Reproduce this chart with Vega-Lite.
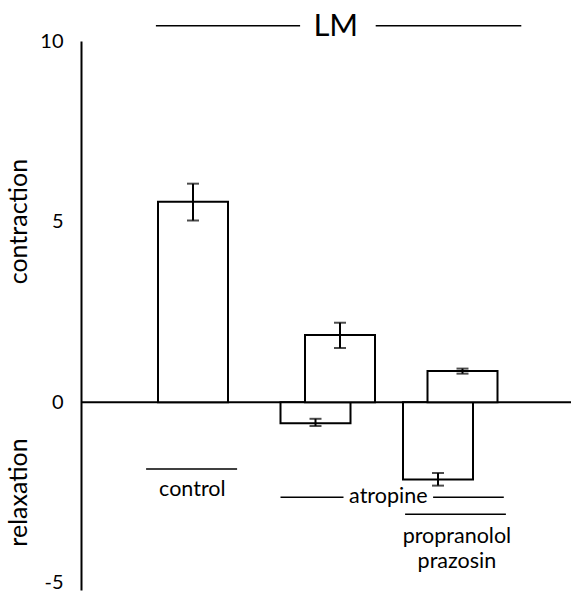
{
  "$schema": "https://vega.github.io/schema/vega-lite/v6.json",
  "autosize": {"type": "none"},
  "width": 490,
  "height": 549,
  "padding": {"left": 81, "top": 41, "right": 0, "bottom": 2},
  "background": "white",
  "config": {"view": {"stroke": null}, "font": "Lato"},
  "datasets": {
    "bars": [
      {"group": "control", "sign": "pos", "start": 1.1, "end": 2.1, "center": 1.6, "mean": 5.55, "lo": 5.03, "hi": 6.05},
      {"group": "atropine", "sign": "neg", "start": 2.85, "end": 3.85, "center": 3.35, "mean": -0.58, "lo": -0.66, "hi": -0.46},
      {"group": "atropine", "sign": "pos", "start": 3.2, "end": 4.2, "center": 3.7, "mean": 1.86, "lo": 1.5, "hi": 2.2},
      {"group": "atropine+propranolol+prazosin", "sign": "neg", "start": 4.6, "end": 5.6, "center": 5.1, "mean": -2.14, "lo": -2.31, "hi": -1.96},
      {"group": "atropine+propranolol+prazosin", "sign": "pos", "start": 4.95, "end": 5.95, "center": 5.45, "mean": 0.86, "lo": 0.79, "hi": 0.93}
    ],
    "lines": [
      {"x": 1.07, "x2": 3.13, "y": 10.42},
      {"x": 4.21, "x2": 6.29, "y": 10.42},
      {"x": 0.93, "x2": 2.23, "y": -1.85},
      {"x": 2.85, "x2": 3.75, "y": -2.63},
      {"x": 5.03, "x2": 6.04, "y": -2.63},
      {"x": 4.63, "x2": 6.07, "y": -3.1}
    ],
    "labels": [
      {"text": "control", "x": 1.59, "y": -2.42},
      {"text": "atropine", "x": 4.39, "y": -2.63},
      {"text": "propranolol", "x": 5.37, "y": -3.73},
      {"text": "prazosin", "x": 5.37, "y": -4.42}
    ]
  },
  "layer": [
    {
      "data": {"values": [{"x": 0, "x2": 7, "y": 0}]},
      "mark": {"type": "rule", "color": "black", "strokeWidth": 2},
      "encoding": {
        "x": {"field": "x", "type": "quantitative", "scale": {"domain": [0, 7], "nice": false, "zero": false}, "axis": null},
        "x2": {"field": "x2"},
        "y": {"field": "y", "type": "quantitative", "scale": {"domain": [-5.2, 10], "nice": false, "zero": false},
          "axis": {"values": [-5, 0, 5, 10], "labelExpr": "'' + datum.value", "title": null, "domain": true, "domainColor": "black", "domainWidth": 2, "ticks": false, "grid": false, "labelFontSize": 20, "labelFont": "Lato", "labelColor": "black", "labelPadding": 18}}
      }
    },
    {
      "data": {"name": "bars"},
      "mark": {"type": "bar", "fill": "white", "stroke": "black", "strokeWidth": 2},
      "encoding": {
        "x": {"field": "start", "type": "quantitative"},
        "x2": {"field": "end"},
        "y": {"field": "mean", "type": "quantitative"},
        "y2": {"datum": 0}
      }
    },
    {
      "data": {"name": "bars"},
      "mark": {"type": "rule", "color": "black", "strokeWidth": 2},
      "encoding": {
        "x": {"field": "center", "type": "quantitative"},
        "y": {"field": "lo", "type": "quantitative"},
        "y2": {"field": "hi"}
      }
    },
    {
      "data": {"name": "bars"},
      "mark": {"type": "tick", "orient": "horizontal", "color": "black", "size": 12, "thickness": 2},
      "encoding": {
        "x": {"field": "center", "type": "quantitative"},
        "y": {"field": "lo", "type": "quantitative"}
      }
    },
    {
      "data": {"name": "bars"},
      "mark": {"type": "tick", "orient": "horizontal", "color": "black", "size": 12, "thickness": 2},
      "encoding": {
        "x": {"field": "center", "type": "quantitative"},
        "y": {"field": "hi", "type": "quantitative"}
      }
    },
    {
      "data": {"name": "lines"},
      "mark": {"type": "rule", "color": "black", "strokeWidth": 1.5},
      "encoding": {
        "x": {"field": "x", "type": "quantitative"},
        "x2": {"field": "x2"},
        "y": {"field": "y", "type": "quantitative"}
      }
    },
    {
      "data": {"name": "labels"},
      "mark": {"type": "text", "color": "black", "font": "Lato", "fontSize": 21.5, "align": "center", "baseline": "middle"},
      "encoding": {
        "x": {"field": "x", "type": "quantitative"},
        "y": {"field": "y", "type": "quantitative"},
        "text": {"field": "text"}
      }
    },
    {
      "data": {"values": [{"text": "LM", "x": 3.64, "y": 10.4}]},
      "mark": {"type": "text", "color": "black", "font": "Lato", "fontSize": 31, "align": "center", "baseline": "middle"},
      "encoding": {
        "x": {"field": "x", "type": "quantitative"},
        "y": {"field": "y", "type": "quantitative"},
        "text": {"field": "text"}
      }
    },
    {
      "data": {"values": [{"text": "contraction", "x": -0.88, "y": 5.0}, {"text": "relaxation", "x": -0.88, "y": -2.5}]},
      "mark": {"type": "text", "color": "black", "font": "Lato", "fontSize": 25, "align": "center", "baseline": "middle", "angle": 270},
      "encoding": {
        "x": {"field": "x", "type": "quantitative"},
        "y": {"field": "y", "type": "quantitative"},
        "text": {"field": "text"}
      }
    }
  ]
}
